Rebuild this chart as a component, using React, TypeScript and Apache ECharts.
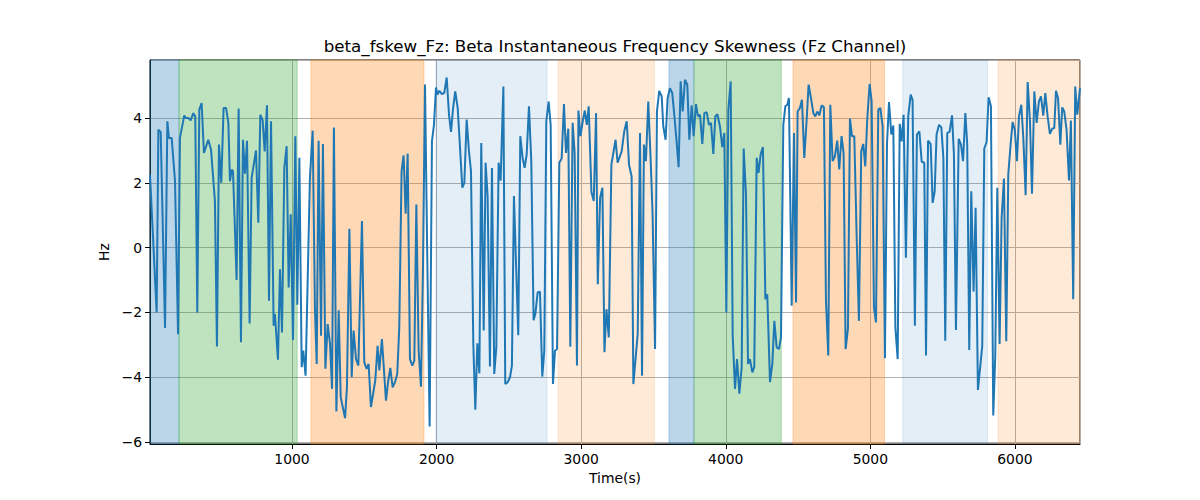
import React, { useEffect, useRef } from 'react';
import * as echarts from 'echarts';

// sample times (s) and beta skewness values (Hz)
const times = [
    18, 64, 76, 92, 122, 138, 149, 168, 191, 212, 225, 255, 265, 283, 299, 318, 331, 345, 359, 375,
    391, 421, 440, 467, 481, 495, 511, 527, 544, 560, 571, 583, 592, 617, 631, 647, 661, 675, 689, 707,
    721, 751, 767, 781, 797, 811, 827, 841, 855, 873, 882, 903, 917, 931, 947, 963, 977, 991, 1007, 1023,
    1037, 1051, 1067, 1078, 1094, 1124, 1143, 1159, 1171, 1184, 1201, 1214, 1231, 1247, 1263, 1277, 1290, 1307, 1323, 1337,
    1367, 1380, 1397, 1413, 1426, 1443, 1459, 1484, 1500, 1516, 1530, 1546, 1576, 1592, 1604, 1622, 1650, 1666, 1680, 1696,
    1712, 1728, 1742, 1758, 1772, 1786, 1800, 1816, 1832, 1846, 1860, 1876, 1892, 1906, 1920, 1936, 1952, 1968, 1982, 1996,
    2005, 2019, 2035, 2053, 2070, 2086, 2100, 2114, 2129, 2146, 2157, 2178, 2192, 2208, 2224, 2238, 2254, 2268, 2282, 2296,
    2309, 2326, 2339, 2353, 2369, 2383, 2399, 2413, 2429, 2443, 2462, 2475, 2492, 2508, 2521, 2535, 2565, 2579, 2595, 2609,
    2623, 2639, 2655, 2671, 2683, 2699, 2715, 2731, 2745, 2759, 2775, 2789, 2805, 2819, 2833, 2849, 2865, 2881, 2895, 2911,
    2925, 2941, 2955, 2971, 2981, 2995, 3011, 3025, 3039, 3052, 3071, 3087, 3103, 3115, 3131, 3147, 3161, 3175, 3191, 3209,
    3238, 3252, 3280, 3298, 3315, 3331, 3349, 3361, 3391, 3407, 3421, 3434, 3448, 3464, 3481, 3494, 3511, 3524, 3540, 3557,
    3568, 3584, 3598, 3614, 3630, 3644, 3660, 3674, 3688, 3702, 3718, 3734, 3748, 3764, 3778, 3794, 3808, 3822, 3838, 3852,
    3868, 3884, 3898, 3914, 3928, 3942, 3960, 3976, 3990, 4004, 4018, 4034, 4048, 4064, 4078, 4094, 4110, 4124, 4140, 4154,
    4167, 4184, 4197, 4214, 4227, 4241, 4257, 4274, 4287, 4306, 4322, 4336, 4352, 4368, 4382, 4398, 4412, 4426, 4437, 4456,
    4472, 4486, 4497, 4513, 4527, 4543, 4559, 4573, 4589, 4606, 4619, 4633, 4647, 4663, 4679, 4693, 4709, 4723, 4739, 4755,
    4771, 4785, 4801, 4815, 4829, 4845, 4859, 4873, 4889, 4905, 4921, 4937, 4951, 4965, 4979, 4995, 5009, 5025, 5039, 5055,
    5069, 5085, 5101, 5115, 5129, 5145, 5159, 5173, 5189, 5203, 5216, 5230, 5246, 5262, 5279, 5292, 5308, 5322, 5339, 5355,
    5373, 5385, 5399, 5417, 5431, 5445, 5458, 5475, 5491, 5505, 5518, 5532, 5548, 5565, 5578, 5592, 5611, 5627, 5641, 5657,
    5670, 5684, 5698, 5714, 5728, 5744, 5774, 5788, 5804, 5818, 5834, 5850, 5864, 5878, 5894, 5908, 5924, 5940, 5954, 5970,
    5984, 5999, 6014, 6028, 6044, 6058, 6074, 6088, 6104, 6118, 6134, 6150, 6166, 6180, 6196, 6210, 6226, 6242, 6258, 6272,
    6284, 6298, 6314, 6327, 6341, 6357, 6374, 6387, 6403, 6417, 6431, 6450,
];

const values = [
    2.25, -2.0, 3.64, 3.57, -2.48, 3.9, 3.38, 3.38, 2.05, -2.67, 3.38, 4.08, 4.0, 4.0, 3.93, 4.15, 4.05, -2.0, 4.26, 4.46,
    2.92, 3.33, 3.03, 1.44, -3.05, 3.18, 2.0, 4.31, 4.31, 3.85, 2.05, 2.41, 2.36, -1.0, 4.29, -2.92, 3.33, 2.28, 3.3, -2.34,
    2.15, 3.0, 0.77, 4.1, 3.93, 2.97, 4.39, -1.64, 3.9, -2.41, -2.05, -3.46, -0.67, -2.62, 2.46, 3.13, -1.23, 1.03, -2.85, 3.44,
    -1.76, 2.77, -3.69, -3.18, -3.95, 2.15, 3.61, -1.95, -3.59, 3.3, -2.72, 3.2, -3.74, -2.36, -2.97, -4.36, 3.71, -5.06, -1.93, -4.62,
    -5.26, -4.31, 0.58, -4.0, -2.56, -3.44, -3.64, 0.82, -3.54, -3.74, -3.59, -4.92, -4.1, -3.03, -3.79, -2.82, -4.72, -4.1, -3.71, -4.31,
    -4.15, -3.9, -2.46, 2.36, 2.85, 1.05, 2.9, -3.44, -3.64, -3.49, 1.33, -3.18, -4.29, -0.62, 5.03, -0.41, -5.52, 3.28, 3.79, 4.94,
    4.72, 4.84, 4.74, 4.77, 5.25, 4.1, 3.57, 4.3, 4.82, 4.31, 3.49, 1.85, 2.0, 3.95, 2.97, 2.36, -2.97, -5.0, -2.95, -3.88,
    3.23, -2.56, 2.62, 1.59, -3.67, 2.46, -3.9, -3.08, 2.62, 2.07, 4.97, -4.21, -4.15, -4.0, -3.64, 1.59, -2.7, 3.44, 2.77, 2.46,
    2.87, 4.36, 2.67, -2.24, -2.05, -1.38, -1.36, -3.98, -3.18, 3.9, 4.51, 3.79, -4.21, -3.18, -3.13, 2.62, 2.75, 4.43, 2.92, 3.67,
    -3.06, 3.85, 2.92, -3.64, 4.23, 3.44, 3.9, 4.23, 3.79, 4.36, 1.72, 1.44, 4.15, -1.13, 1.54, 1.85, -3.23, -1.9, -2.77, 2.56,
    3.33, 2.62, 2.97, 3.59, 3.9, 2.56, 2.2, -4.21, -2.67, 3.54, -3.95, 3.18, 2.67, 4.51, 2.67, 1.03, -3.13, 4.2, 4.84, 4.67,
    3.74, 3.33, 4.62, 4.92, 4.77, 4.1, 3.28, 2.48, 5.13, 4.2, 5.18, 5.03, 3.33, 4.39, 3.44, 4.43, 4.05, 4.1, 3.2, 4.15,
    4.18, 3.79, 3.85, 2.89, 4.05, 4.12, 3.74, 3.1, 3.54, -2.0, 4.26, 5.13, -2.72, -4.36, -3.44, -4.51, -3.69, 3.06, 1.64, -3.59,
    -3.44, -3.85, -3.69, 2.77, 2.31, 2.87, 3.1, -1.59, -1.44, -4.15, -3.59, -2.26, -3.08, -3.13, -2.77, 3.79, 4.36, 4.41, 4.62, -1.79,
    3.54, -1.69, 4.2, 4.31, 4.56, 2.77, 3.9, 5.03, 4.62, 4.15, 4.05, 4.2, 4.08, 4.39, 4.33, -1.64, -3.33, 4.41, 2.67, 2.82,
    3.3, 2.41, 3.44, 2.92, -3.13, -2.51, 3.98, 3.44, 3.44, 0.41, -2.26, 2.97, 3.2, 2.51, 4.0, 5.05, 4.51, -1.85, -2.31, 4.26,
    4.31, 3.74, -3.41, 3.18, 4.49, 3.49, 3.77, -2.46, -3.44, 3.82, 3.28, 4.1, -0.31, 4.05, 4.72, 4.56, -2.41, 3.49, 3.59, 2.65,
    2.62, -3.33, 3.3, 3.2, 1.38, 1.74, 3.49, 3.79, 3.71, 2.77, -2.87, 3.54, 3.57, 4.08, 2.87, -2.54, 3.36, 3.18, 2.67, 4.15,
    3.18, -3.16, 1.74, -1.35, 1.23, -4.39, -3.03, 3.06, 3.26, 4.64, 4.36, -5.18, -3.33, 1.85, -2.97, 0.92, 2.13, -2.89, 2.26, 3.18,
    3.88, 3.64, 2.67, 4.05, 4.41, 3.38, 1.62, 5.11, 3.9, 1.66, 4.82, 3.85, 4.51, 4.67, 4.07, 4.77, 4.05, 3.51, 3.67, 3.69,
    4.84, 4.62, 3.18, 4.33, 4.2, 3.64, 2.07, 3.92, -1.59, 4.97, 4.1, 4.92,
];

// shaded intervals: start, end, kind
const spanStarts = [18, 219, 1131, 1995, 2840, 3607, 3780, 4465, 5224, 5883];
const spanEnds = [219, 1036, 1913, 2764, 3507, 3780, 4384, 5098, 5810, 6450];
const spanKinds = ['blue', 'green', 'orange', 'paleBlue', 'paleOrange', 'blue', 'green', 'orange', 'paleBlue', 'paleOrange'];

const spanColors: Record<string, string> = {
    blue: 'rgba(31,119,180,0.3)',
    green: 'rgba(44,160,44,0.3)',
    orange: 'rgba(255,127,14,0.3)',
    paleBlue: 'rgba(31,119,180,0.12)',
    paleOrange: 'rgba(255,127,14,0.16)',
};

const FONT = 'DejaVu Sans';

const App: React.FC = () => {
    const chartRef = useRef<HTMLDivElement>(null);

    useEffect(() => {
        if (!chartRef.current) return;
        const chart = echarts.init(chartRef.current, null, { renderer: 'svg' });

        const lineData = times.map((t, i) => [t, values[i]]);
        const areas = spanStarts.map((s, i) => [
            {
                xAxis: s,
                itemStyle: {
                    color: spanColors[spanKinds[i]],
                    borderColor: spanColors[spanKinds[i]],
                    borderWidth: 1,
                },
            },
            { xAxis: spanEnds[i] },
        ]);

        const minus = (v: number) => String(v).replace('-', '\u2212');

        chart.setOption({
            animation: false,
            textStyle: { fontFamily: FONT },
            title: {
                text: 'beta_fskew_Fz: Beta Instantaneous Frequency Skewness (Fz Channel)',
                left: 615,
                top: 37,
                textAlign: 'center',
                padding: 0,
                textStyle: { fontFamily: FONT, fontSize: 16.7, fontWeight: 'normal', color: '#000' },
            },
            grid: {
                left: 150,
                right: 120,
                top: 60,
                bottom: 56,
                show: true,
                borderColor: '#000',
                borderWidth: 1,
                backgroundColor: 'transparent',
            },
            xAxis: {
                type: 'value',
                min: 18,
                max: 6450,
                splitNumber: 6,
                name: 'Time(s)',
                nameLocation: 'middle',
                nameGap: 27,
                nameTextStyle: { fontFamily: FONT, fontSize: 13.9, color: '#000' },
                axisLine: { show: true, onZero: false, lineStyle: { color: '#000', width: 1 } },
                axisTick: { show: true, length: 5, lineStyle: { color: '#000' } },
                axisLabel: {
                    showMinLabel: false,
                    showMaxLabel: false,
                    margin: 8,
                    fontSize: 13.9,
                    color: '#000',
                    fontFamily: FONT,
                    formatter: (v: number) => String(v),
                },
                splitLine: { show: true, lineStyle: { color: '#b0b0b0', width: 1 } },
            },
            yAxis: {
                type: 'value',
                min: -6.06,
                max: 5.79,
                splitNumber: 6,
                name: 'Hz',
                nameLocation: 'middle',
                nameGap: 36,
                nameTextStyle: { fontFamily: FONT, fontSize: 13.9, color: '#000' },
                axisLine: { show: true, onZero: false, lineStyle: { color: '#000', width: 1 } },
                axisTick: { show: true, length: 5, lineStyle: { color: '#000' } },
                axisLabel: {
                    showMinLabel: false,
                    showMaxLabel: false,
                    margin: 8,
                    fontSize: 13.9,
                    color: '#000',
                    fontFamily: FONT,
                    formatter: minus,
                },
                splitLine: { show: true, lineStyle: { color: '#b0b0b0', width: 1 } },
            },
            series: [
                {
                    type: 'line',
                    data: lineData,
                    showSymbol: false,
                    lineStyle: { color: '#1f77b4', width: 2 },
                    clip: true,
                    silent: true,
                    markArea: { silent: true, data: areas },
                },
            ],
        });

        return () => {
            chart.dispose();
        };
    }, []);

    return (
        <div
            ref={chartRef}
            style={{ position: 'absolute', left: 0, top: 0, width: '1200px', height: '500px' }}
        />
    );
};

export default App;
